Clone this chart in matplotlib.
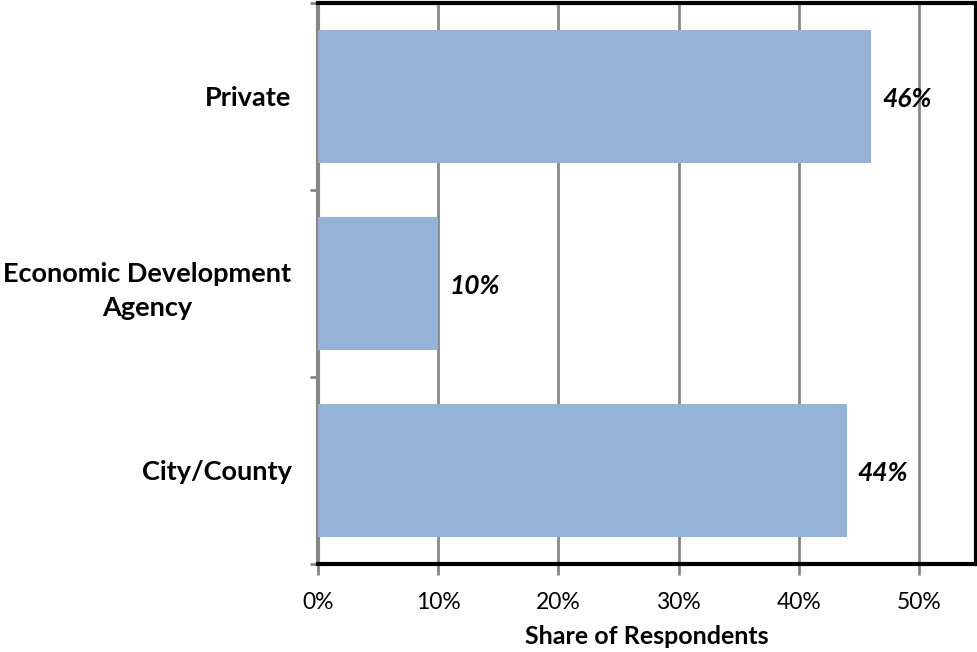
import matplotlib.pyplot as plt
import matplotlib.ticker as mtick

categories = ["City/County", "Economic Development\nAgency", "Private"]
shares = [0.44, 0.10, 0.46]
value_labels = ["44%", "10%", "46%"]
xticks = [0, 0.1, 0.2, 0.3, 0.4, 0.5]

plt.rcParams['font.family'] = ['Lato', 'DejaVu Sans']

fig = plt.figure(figsize=(9.78, 6.52), dpi=100)
ax = fig.add_axes([318 / 978, 88 / 652, 658 / 978, 561 / 652])

ypos = list(range(len(categories)))
ax.barh(ypos, shares, height=0.71, color="#95B3D7", zorder=3)

for y, v, lab in zip(ypos, shares, value_labels):
    ax.annotate(lab, (v, y), xytext=(8, -2), textcoords="offset points",
                ha="left", va="center", fontsize=19, fontweight="bold",
                fontstyle="italic")

ax.set_xlim(0, 0.5475)
ax.set_ylim(-0.5, 2.5)
ax.set_xticks(xticks)
ax.xaxis.set_major_formatter(mtick.PercentFormatter(1.0, decimals=0))
ax.tick_params(axis="x", labelsize=16.5, length=8, width=2, color="#878787", pad=12)

ax.set_yticks(ypos)
ax.set_yticklabels(categories, fontsize=19.5, fontweight="bold",
                   multialignment="center", linespacing=1.5)
ax.tick_params(axis="y", length=0, pad=19)
ax.set_yticks([-0.5, 0.5, 1.5, 2.5], minor=True)
ax.tick_params(axis="y", which="minor", length=6, width=2, color="#878787")

ax.grid(axis="x", color="#878787", linewidth=2, zorder=1)
ax.set_axisbelow(True)

for s in ax.spines.values():
    s.set_color("black")
    s.set_linewidth(3)
ax.spines["left"].set_color("#878787")

ax.set_xlabel("Share of Respondents", fontsize=18, fontweight="bold", labelpad=9)

fig.savefig("out.png", dpi=100)
